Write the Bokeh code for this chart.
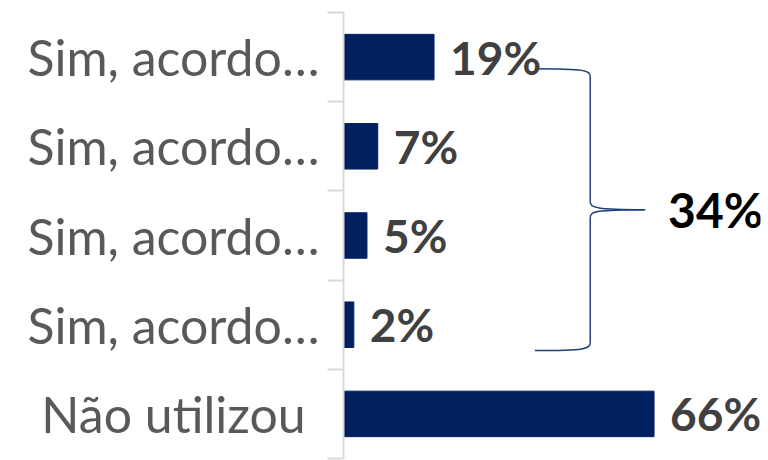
from bokeh.plotting import figure
from bokeh.layouts import row
from bokeh.models import Range1d, FixedTicker, ColumnDataSource, LabelSet, Label
from bokeh.core.properties import value
from bokeh.embed import file_html
from bokeh.resources import INLINE

# ---- data ----
categories = ["Sim, acordo…", "Sim, acordo…", "Sim, acordo…", "Sim, acordo…", "Não utilizou"]
values = [19.3, 7.3, 5.0, 2.2, 66.2]
value_labels = ["19%", "7%", "5%", "2%", "66%"]
brace_total_label = "34%"

n = len(categories)
ypos = [n - 1 - i for i in range(n)]  # top to bottom

NAVY = "#002060"
LEFT_W = 320
yr = Range1d(-0.5, n - 0.5)

# label panel
pl = figure(width=LEFT_W, height=460, output_backend="svg", toolbar_location=None,
            x_range=Range1d(0, LEFT_W), y_range=yr,
            min_border_left=0, min_border_right=0, min_border_top=12, min_border_bottom=2)
pl.axis.visible = False
pl.grid.grid_line_color = None
pl.outline_line_color = None
lsrc = ColumnDataSource(dict(y=ypos, cat=categories, lx=[173] * n))
pl.text(x="lx", y="y", text="cat", source=lsrc, text_font=value("Lato"),
        text_font_size="50px", text_color="#595959", text_baseline="middle",
        text_align="center")

# chart panel
p = figure(width=768 - LEFT_W, height=460, output_backend="svg", toolbar_location=None,
           x_range=Range1d(0, 88.9), y_range=yr,
           min_border_left=343 - LEFT_W, min_border_right=8, min_border_top=12,
           min_border_bottom=2)
p.outline_line_color = None
p.grid.grid_line_color = None
p.xaxis.visible = False

yax = p.yaxis[0]
yax.ticker = FixedTicker(ticks=[], minor_ticks=[k - 0.5 for k in range(n + 1)])
yax.major_tick_line_color = None
yax.minor_tick_line_color = "#d9d9d9"
yax.minor_tick_line_width = 2
yax.minor_tick_out = 16
yax.minor_tick_in = 0
yax.axis_line_color = "#d9d9d9"
yax.axis_line_width = 2

src = ColumnDataSource(dict(y=ypos, v=values, lab=value_labels))
p.hbar(y="y", right="v", left=0, height=0.51, source=src, color=NAVY)

p.add_layout(LabelSet(x="v", y="y", text="lab", source=src, x_offset=16,
                      text_font=value("Lato"), text_font_style="bold",
                      text_font_size="46px",
                      text_color="#404040", text_baseline="middle", text_align="left"))

# ---- brace ----
top_y = ypos[0] - 0.13
bot_y = ypos[3] - 0.29
mid_y = (top_y + bot_y) / 2
bx0, bxv, bxt = 40.8, 52.6, 64.3
dy_c = 0.09
dx_c = 1.2
bc = dict(line_color="#1f3e7a", line_width=1.5)
p.bezier(x0=[bx0], y0=[top_y], x1=[bxv], y1=[top_y - dy_c],
         cx0=[bxv - 1.0], cy0=[top_y], cx1=[bxv], cy1=[top_y - 0.02], **bc)
p.segment(x0=[bxv], y0=[top_y - dy_c], x1=[bxv], y1=[mid_y + dy_c], **bc)
p.bezier(x0=[bxv], y0=[mid_y + dy_c], x1=[bxt], y1=[mid_y],
         cx0=[bxv], cy0=[mid_y + 0.02], cx1=[bxv + dx_c], cy1=[mid_y], **bc)
p.bezier(x0=[bxt], y0=[mid_y], x1=[bxv], y1=[mid_y - dy_c],
         cx0=[bxv + dx_c], cy0=[mid_y], cx1=[bxv], cy1=[mid_y - 0.02], **bc)
p.segment(x0=[bxv], y0=[mid_y - dy_c], x1=[bxv], y1=[bot_y + dy_c], **bc)
p.bezier(x0=[bxv], y0=[bot_y + dy_c], x1=[bx0], y1=[bot_y],
         cx0=[bxv], cy0=[bot_y + 0.02], cx1=[bxv - 1.0], cy1=[bot_y], **bc)

p.add_layout(Label(x=69.2, y=mid_y, text=brace_total_label, text_font="Lato",
                   text_font_style="bold", text_font_size="48px", text_color="black",
                   text_baseline="middle", text_align="left"))

layout = row(pl, p, spacing=0)
open("out.html", "w").write(file_html(layout, INLINE))
